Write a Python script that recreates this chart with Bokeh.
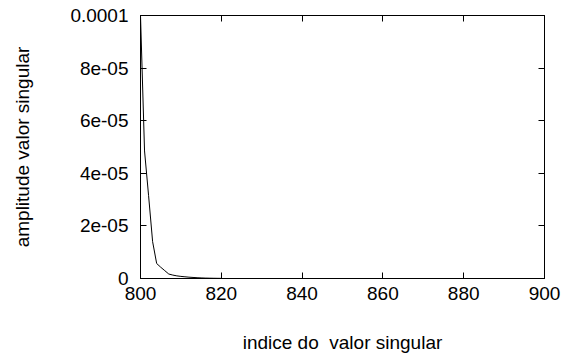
from bokeh.plotting import figure
from bokeh.models import LinearAxis, FixedTicker, Range1d
from bokeh.embed import file_html
from bokeh.resources import INLINE

# Singular value amplitudes by index
indices = [800, 801, 802, 803, 804, 805, 806, 807, 808, 809, 810,
           811, 812, 813, 814, 815, 816, 817, 818, 819, 820]
amplitudes = [1.0e-4, 4.85e-5, 3.15e-5, 1.4e-5, 5.7e-6, 4.3e-6, 3.0e-6, 1.7e-6,
              1.3e-6, 1.0e-6, 8e-7, 6.5e-7, 5e-7, 4e-7, 3e-7, 2.2e-7,
              1.6e-7, 1.2e-7, 9e-8, 7e-8, 5e-8]

x_ticks = [800, 820, 840, 860, 880, 900]
y_ticks = [0.0, 2e-5, 4e-5, 6e-5, 8e-5, 1e-4]
y_tick_labels = ["0", "2e-05", "4e-05", "6e-05", "8e-05", "0.0001"]

FONT = "Liberation Sans"
SIZE = "19px"

p = figure(width=564, height=363, output_backend="svg", toolbar_location=None,
           x_range=Range1d(800, 900), y_range=Range1d(0, 1e-4),
           min_border_left=140, min_border_right=20,
           min_border_top=15, min_border_bottom=85,
           x_axis_label="indice do\u00a0 valor singular",
           y_axis_label="amplitude valor singular")

p.line(indices, amplitudes, line_color="black", line_width=1)

p.grid.visible = False
p.background_fill_color = "white"
p.border_fill_color = "white"
p.outline_line_color = "black"
p.outline_line_width = 1

p.xaxis.ticker = FixedTicker(ticks=x_ticks)
p.yaxis.ticker = FixedTicker(ticks=y_ticks)
p.yaxis.major_label_overrides = {t: s for t, s in zip(y_ticks, y_tick_labels)}

for ax in p.xaxis + p.yaxis:
    ax.major_tick_in = 6
    ax.major_tick_out = 0
    ax.minor_tick_line_color = None
    ax.axis_line_color = "black"
    ax.major_tick_line_color = "black"
    ax.major_label_text_font = FONT
    ax.major_label_text_font_size = SIZE
    ax.major_label_text_color = "black"
    ax.axis_label_text_font = FONT
    ax.axis_label_text_font_size = SIZE
    ax.axis_label_text_font_style = "normal"
    ax.axis_label_text_color = "black"

p.yaxis.major_label_standoff = 12
p.yaxis.axis_label_standoff = 34
p.xaxis.major_label_standoff = 8
p.xaxis.axis_label_standoff = 29

# mirrored tick marks on the top and right edges, without labels
top = LinearAxis(ticker=FixedTicker(ticks=x_ticks))
right = LinearAxis(ticker=FixedTicker(ticks=y_ticks))
top.major_label_overrides = {t: "" for t in x_ticks}
right.major_label_overrides = {t: "" for t in y_ticks}
for ax in (top, right):
    ax.major_tick_in = 6
    ax.major_tick_out = 0
    ax.minor_tick_line_color = None
    ax.major_label_standoff = 0
    ax.axis_line_color = "black"
    ax.major_tick_line_color = "black"
p.add_layout(top, "above")
p.add_layout(right, "right")

open("out.html", "w").write(file_html(p, INLINE))
